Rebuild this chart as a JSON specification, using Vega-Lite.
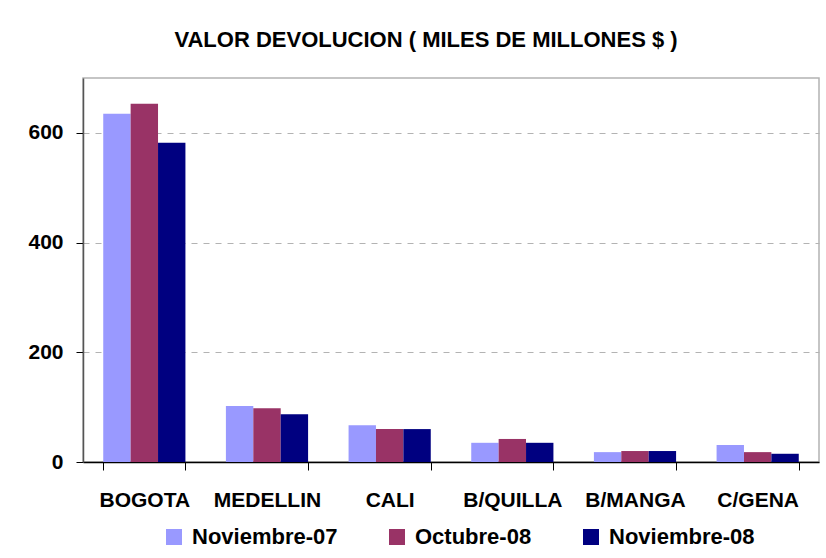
{
  "$schema": "https://vega.github.io/schema/vega-lite/v6.json",
  "width": 736,
  "height": 384,
  "autosize": {"type": "none"},
  "padding": {"left": 83, "top": 78, "right": 7, "bottom": 96},
  "background": "white",
  "title": {
    "text": "VALOR DEVOLUCION ( MILES DE MILLONES $ )",
    "font": "Liberation Sans",
    "fontSize": 22,
    "fontWeight": "bold",
    "color": "black",
    "anchor": "middle",
    "frame": "group",
    "dx": -25,
    "offset": 9,
    "baseline": "alphabetic"
  },
  "data": {
    "values": [
      {"ciudad": "BOGOTA", "periodo": "Noviembre-07", "valor": 635},
      {"ciudad": "BOGOTA", "periodo": "Octubre-08", "valor": 653},
      {"ciudad": "BOGOTA", "periodo": "Noviembre-08", "valor": 582},
      {"ciudad": "MEDELLIN", "periodo": "Noviembre-07", "valor": 102},
      {"ciudad": "MEDELLIN", "periodo": "Octubre-08", "valor": 98},
      {"ciudad": "MEDELLIN", "periodo": "Noviembre-08", "valor": 87},
      {"ciudad": "CALI", "periodo": "Noviembre-07", "valor": 67},
      {"ciudad": "CALI", "periodo": "Octubre-08", "valor": 60},
      {"ciudad": "CALI", "periodo": "Noviembre-08", "valor": 60},
      {"ciudad": "B/QUILLA", "periodo": "Noviembre-07", "valor": 35},
      {"ciudad": "B/QUILLA", "periodo": "Octubre-08", "valor": 42},
      {"ciudad": "B/QUILLA", "periodo": "Noviembre-08", "valor": 35},
      {"ciudad": "B/MANGA", "periodo": "Noviembre-07", "valor": 18},
      {"ciudad": "B/MANGA", "periodo": "Octubre-08", "valor": 20},
      {"ciudad": "B/MANGA", "periodo": "Noviembre-08", "valor": 20},
      {"ciudad": "C/GENA", "periodo": "Noviembre-07", "valor": 31},
      {"ciudad": "C/GENA", "periodo": "Octubre-08", "valor": 18},
      {"ciudad": "C/GENA", "periodo": "Noviembre-08", "valor": 15}
    ]
  },
  "mark": {"type": "bar"},
  "encoding": {
    "x": {
      "field": "ciudad",
      "type": "nominal",
      "sort": ["BOGOTA", "MEDELLIN", "CALI", "B/QUILLA", "B/MANGA", "C/GENA"],
      "scale": {"paddingInner": 0.33, "paddingOuter": 0.165},
      "axis": {
        "title": null,
        "labelAngle": 0,
        "tickBand": "extent",
        "tickSize": 8,
        "tickColor": "black",
        "domainColor": "black",
        "domainWidth": 1.5,
        "labelFont": "Liberation Sans",
        "labelFontSize": 21,
        "labelFontWeight": "bold",
        "labelColor": "black",
        "labelPadding": 19
      }
    },
    "xOffset": {
      "field": "periodo",
      "sort": ["Noviembre-07", "Octubre-08", "Noviembre-08"]
    },
    "y": {
      "field": "valor",
      "type": "quantitative",
      "scale": {"domain": [0, 700]},
      "axis": {
        "title": null,
        "values": [0, 200, 400, 600],
        "tickSize": 7,
        "tickColor": "black",
        "domainColor": "#555555",
        "domainWidth": 1.5,
        "labelFont": "Liberation Sans",
        "labelFontSize": 21,
        "labelFontWeight": "bold",
        "labelColor": "black",
        "labelPadding": 13,
        "grid": true,
        "gridColor": "#b3b3b3",
        "gridDash": [6, 6],
        "gridWidth": 1
      }
    },
    "color": {
      "field": "periodo",
      "type": "nominal",
      "scale": {
        "domain": ["Noviembre-07", "Octubre-08", "Noviembre-08"],
        "range": ["#9999FF", "#993366", "#000080"]
      },
      "legend": {
        "orient": "none",
        "legendX": 80,
        "legendY": 448,
        "direction": "horizontal",
        "title": null,
        "symbolType": "square",
        "symbolSize": 256,
        "symbolStrokeWidth": 0,
        "labelFont": "Liberation Sans",
        "labelFontSize": 22,
        "labelFontWeight": "bold",
        "labelColor": "black",
        "labelOffset": 7,
        "columnPadding": 48
      }
    }
  },
  "config": {
    "view": {"stroke": "#b3b3b3", "strokeWidth": 1.5}
  }
}
